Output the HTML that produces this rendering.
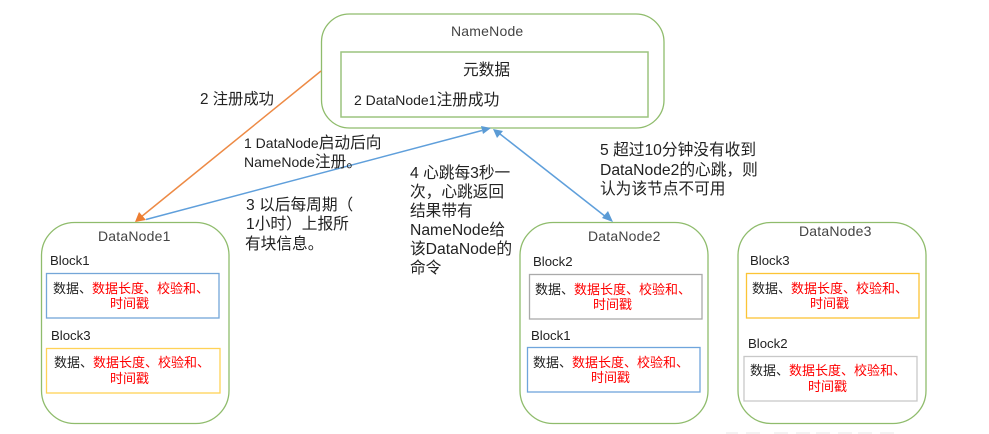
<!DOCTYPE html>
<html><head><meta charset="utf-8"><style>
html,body{margin:0;padding:0;background:#fff;width:989px;height:434px;overflow:hidden}
svg{display:block}
text{font-family:"Liberation Sans","Noto Sans CJK SC",sans-serif;font-size:15.7px;fill:#222}
.b{font-size:13px}
.l{font-size:14px}
.r{fill:#f00}
.n{fill:#444;font-size:14px;letter-spacing:.2px}
.k{font-size:13.2px}
</style></head><body>
<svg width="989" height="434" viewBox="0 0 989 434" xmlns="http://www.w3.org/2000/svg">
<g fill="#fff" stroke="#8fbc6c" stroke-width="1.3">
<rect x="321.5" y="14" width="342.5" height="114" rx="28"/>
<rect x="41.5" y="222.5" width="187.5" height="201" rx="33"/>
<rect x="520" y="222.5" width="188" height="201" rx="33"/>
<rect x="738" y="222.5" width="188" height="201" rx="33"/>
</g>
<rect x="341" y="52" width="307" height="65" fill="#fff" stroke="#9cc47f" stroke-width="1.5"/>
<g fill="#fff" stroke-width="1.3">
<rect x="46.5" y="273.5" width="172.5" height="44.5" stroke="#74a6d8"/>
<rect x="46.5" y="348.5" width="173.5" height="44.5" stroke="#ffd256"/>
<rect x="529.5" y="274.5" width="172.5" height="44.5" stroke="#aaa"/>
<rect x="527.5" y="347.5" width="172.5" height="44.5" stroke="#6fa5dc"/>
<rect x="746.5" y="273.5" width="172.5" height="44.5" stroke="#fcc435"/>
<rect x="744" y="356.5" width="173" height="44.5" stroke="#c8c8c8"/>
</g>
<g stroke-width="1.5" fill="none">
<line x1="321" y1="71" x2="141" y2="217" stroke="#ed8a45"/>
<line x1="146" y1="219.5" x2="482" y2="130.5" stroke="#5f9fdb"/>
<line x1="500" y1="134" x2="606" y2="217" stroke="#5f9fdb"/>
</g>
<polygon points="135,222 139,212 146,220" fill="#ed7d31"/>
<polygon points="491,128 481,126 483,134" fill="#5b9bd5"/>
<polygon points="493,129 503,131 497,138" fill="#5b9bd5"/>
<polygon points="613,222 602,218 608,211" fill="#5b9bd5"/>

<text class="n" x="451" y="36">NameNode</text>
<text x="463" y="75">元数据</text>
<text x="354" y="105"><tspan class="l">2 DataNode1</tspan>注册成功</text>

<text x="200" y="104" style="font-size:15.3px">2 注册成功</text>
<text x="244" y="148"><tspan class="l">1 DataNode</tspan>启动后向</text>
<text x="244" y="167"><tspan class="l">NameNode</tspan>注册。</text>
<text x="246" y="210">3 以后每周期（</text>
<text x="246" y="229">1小时）上报所</text>
<text x="245" y="249">有块信息。</text>
<text x="410" y="178">4 心跳每3秒一</text>
<text x="410" y="197">次，心跳返回</text>
<text x="410" y="216">结果带有</text>
<text x="410" y="235">NameNode给</text>
<text x="410" y="254">该DataNode的</text>
<text x="410" y="273">命令</text>
<text x="600" y="155">5 超过10分钟没有收到</text>
<text x="600" y="175">DataNode2的心跳，则</text>
<text x="600" y="194">认为该节点不可用</text>

<text class="n" x="98" y="241">DataNode1</text>
<text class="n" x="588" y="241">DataNode2</text>
<text class="n" x="799" y="236">DataNode3</text>

<text class="k" x="50" y="265">Block1</text>
<text class="k" x="51" y="340">Block3</text>
<text class="k" x="533" y="266">Block2</text>
<text class="k" x="531" y="340">Block1</text>
<text class="k" x="750" y="265">Block3</text>
<text class="k" x="748" y="348">Block2</text>

<text class="b" x="53" y="293">数据、<tspan class="r b">数据长度、校验和、</tspan></text>
<text class="b r" x="110" y="308">时间戳</text>
<text class="b" x="54" y="367">数据、<tspan class="r b">数据长度、校验和、</tspan></text>
<text class="b r" x="110" y="383">时间戳</text>
<text class="b" x="535" y="294">数据、<tspan class="r b">数据长度、校验和、</tspan></text>
<text class="b r" x="593" y="309">时间戳</text>
<text class="b" x="533" y="367">数据、<tspan class="r b">数据长度、校验和、</tspan></text>
<text class="b r" x="591" y="382">时间戳</text>
<text class="b" x="752" y="293">数据、<tspan class="r b">数据长度、校验和、</tspan></text>
<text class="b r" x="810" y="308">时间戳</text>
<text class="b" x="750" y="375">数据、<tspan class="r b">数据长度、校验和、</tspan></text>
<text class="b r" x="808" y="391">时间戳</text>

<g fill="#f3f3f3">
<rect x="726" y="432" width="12" height="2"/><rect x="746" y="432" width="14" height="2"/>
<rect x="774" y="432" width="14" height="2"/><rect x="796" y="432" width="14" height="2"/>
<rect x="816" y="432" width="14" height="2"/><rect x="838" y="432" width="14" height="2"/>
<rect x="858" y="432" width="14" height="2"/><rect x="880" y="432" width="14" height="2"/>
</g>
</svg>
</body></html>
